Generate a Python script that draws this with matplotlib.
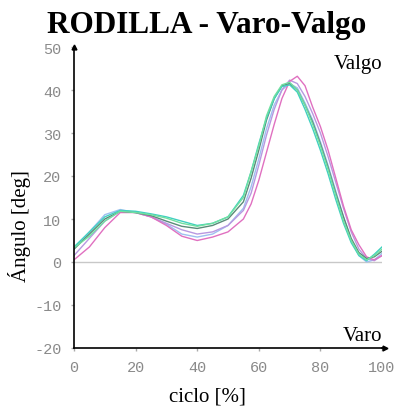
import matplotlib
matplotlib.use("Agg")
import matplotlib.pyplot as plt

# ---- data ----
ciclo = [0, 5, 10, 15, 20, 25, 30, 35, 40, 45, 50, 55, 57.5, 60, 62.5, 65, 67.5,
         70, 72.5, 75, 77.5, 80, 82.5, 85, 87.5, 90, 92.5, 95, 97.5, 100]

green = [3.3, 6.0, 9.5, 11.8, 11.5, 11.0, 10.2, 9.0, 8.3, 9.0, 10.5, 15.0, 21.0,
         27.0, 34.0, 38.5, 41.2, 41.8, 40.0, 36.5, 32.0, 27.0, 21.5, 15.5, 9.5,
         5.0, 1.8, 0.5, 1.5, 3.0]
teal = [3.5, 7.0, 10.5, 12.0, 11.8, 11.2, 10.5, 9.5, 8.5, 9.0, 10.5, 15.5, 21.0,
        27.5, 33.5, 38.0, 40.8, 41.2, 39.5, 35.5, 31.0, 26.0, 20.5, 14.5, 9.0,
        4.5, 1.5, 0.3, 1.8, 3.5]
darkgreen = [3.0, 6.5, 10.0, 11.8, 11.5, 10.8, 9.5, 8.3, 7.8, 8.5, 10.0, 14.0,
             19.5, 26.0, 33.0, 38.0, 41.0, 41.5, 40.0, 36.5, 32.5, 27.5, 22.0,
             16.0, 10.5, 5.5, 2.2, 0.8, 1.2, 2.5]
blue = [3.0, 7.0, 11.0, 12.2, 11.5, 10.5, 8.8, 6.5, 5.8, 6.5, 8.5, 12.5, 17.5,
        24.0, 31.0, 36.5, 40.0, 41.5, 40.5, 37.0, 33.0, 28.0, 22.5, 16.5, 10.5,
        5.0, 1.5, 0.0, 0.5, 2.0]
lavender = [1.5, 5.5, 9.5, 11.8, 11.5, 10.5, 9.0, 7.5, 6.5, 7.0, 8.5, 12.0, 16.0,
            22.5, 29.5, 35.5, 40.0, 42.3, 41.5, 38.5, 34.5, 30.0, 24.5, 18.5,
            12.5, 7.0, 3.0, 0.8, 0.3, 1.5]
pink = [0.5, 3.5, 8.0, 11.5, 11.5, 10.5, 8.5, 6.0, 5.0, 5.8, 7.0, 10.0, 13.5,
        19.0, 25.5, 32.0, 38.0, 42.0, 43.2, 41.0, 36.0, 31.5, 26.0, 19.5, 13.0,
        7.5, 4.0, 1.2, 0.5, 1.5]

series = [blue, lavender, pink, darkgreen, teal, green]
colors = ["#9ec0f0", "#b898e0", "#e070c0", "#5a8a78", "#40d0c0", "#70e0a0"]

xticks = [0, 20, 40, 60, 80, 100]
yticks = [-20, -10, 0, 10, 20, 30, 40, 50]

# ---- figure ----
fig = plt.figure(figsize=(3.98, 4.10), dpi=100)
ax = fig.add_axes([74 / 398, (410 - 349) / 410, 308 / 398, 301 / 410])

ax.axhline(0, color="#c8c8c8", lw=1.0, zorder=1)
for s, c in zip(series, colors):
    ax.plot(ciclo, s, color=c, lw=1.0, zorder=2)

ax.set_xlim(0, 100)
ax.set_ylim(-20, 50)
ax.set_xticks(xticks)
ax.set_yticks(yticks)
ax.set_yticklabels(["-20", "-10", "0", "10", "20", "30", "40", "50"])

for sp in ["top", "right"]:
    ax.spines[sp].set_visible(False)
for sp in ["left", "bottom"]:
    ax.spines[sp].set_color("black")
    ax.spines[sp].set_linewidth(1.2)

ax.tick_params(axis="both", length=2, width=1, color="#aaaaaa",
               labelcolor="#8a8a8a", labelsize=11, pad=7)
for lab in ax.get_xticklabels() + ax.get_yticklabels():
    lab.set_family("Liberation Mono")

# arrow heads
ax.plot(0, 1.0, marker="^", color="black", markersize=3.5,
        transform=ax.transAxes, clip_on=False)
ax.plot(1.01, 0, marker=">", color="black", markersize=3.5,
        transform=ax.transAxes, clip_on=False)
ax.plot([1.0, 1.01], [0, 0], color="black", lw=1.2,
        transform=ax.transAxes, clip_on=False)

ax.text(100, 46.2, "Valgo", ha="right", va="center", fontsize=15,
        family="Liberation Serif")
ax.text(100, -17, "Varo", ha="right", va="center", fontsize=15,
        family="Liberation Serif")

fig.text(207 / 398, 1 - 26 / 410, "RODILLA - Varo-Valgo", ha="center",
         va="center", fontsize=22.5, fontweight="bold", family="Liberation Serif")
fig.text(207 / 398, 1 - 397 / 410, "ciclo [%]", ha="center", va="center",
         fontsize=15, family="Liberation Serif")
fig.text(20 / 398, 1 - 226 / 410, "\u00c1ngulo [deg]", ha="center",
         va="center", rotation=90, fontsize=15, family="Liberation Serif")

fig.savefig("out.png", dpi=100)
